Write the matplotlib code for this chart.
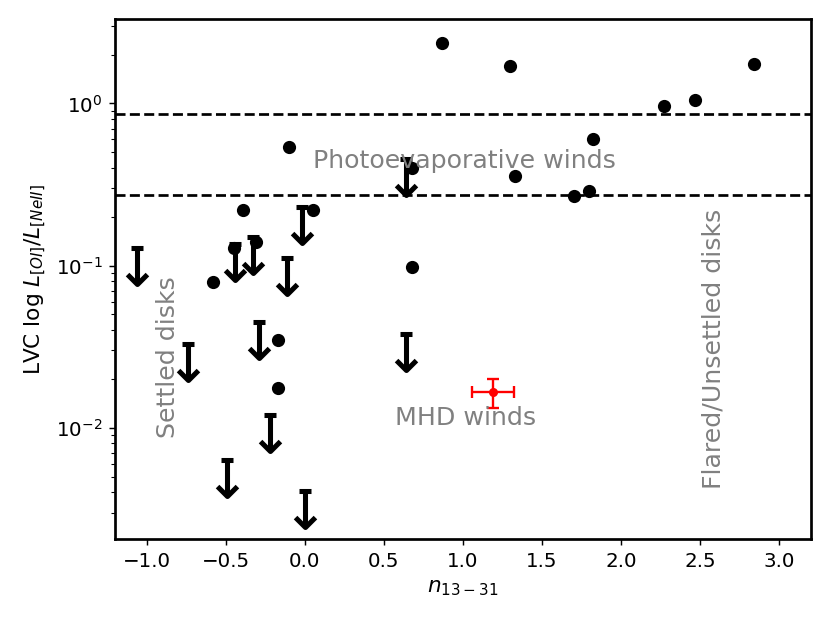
import numpy as np
import matplotlib
matplotlib.use("Agg")
from matplotlib import pyplot as plt
from matplotlib.path import Path

# detections
det_x = [-0.10, 0.68, -0.39, 0.05, -0.45, -0.31, -0.58, 0.68, -0.17, -0.17,
         0.87, 1.30, 2.84, 2.47, 2.27, 1.82, 1.33, 1.70, 1.80]
det_y = [0.54, 0.40, 0.22, 0.22, 0.128, 0.139, 0.079, 0.098, 0.035, 0.0177,
         2.36, 1.71, 1.75, 1.05, 0.96, 0.605, 0.356, 0.269, 0.288]

# upper limits
lim_x = [0.64, -0.015, -1.06, -0.44, -0.325, -0.11, -0.29, -0.74, 0.64, -0.22, -0.49, 0.00]
lim_y = [0.453, 0.23, 0.129, 0.135, 0.15, 0.112, 0.045, 0.0327, 0.038, 0.012, 0.0063, 0.0041]

# MHD wind model point
mhd_x, mhd_xerr = 1.19, 0.13
mhd_y, mhd_yerr = 0.0167, 0.0034

# photoevaporative band
photo_lo, photo_hi = 0.272, 0.855

fig = plt.figure(figsize=(830/130, 623/130), dpi=130)
ax = fig.add_axes([0.1386, 0.1348, 0.977 - 0.1386, 0.969 - 0.1348])

ax.plot(det_x, det_y, 'ko', ms=6.3)

# upper limit arrows: bar on top, stem, open V head
lim_y = np.array(lim_y)
lim_tip = lim_y - 0.4 * lim_y
vhead = Path([(-1, 1), (0, 0), (1, 1)], [Path.MOVETO, Path.LINETO, Path.LINETO])
ax.vlines(lim_x, lim_tip, lim_y, color='k', lw=2.8)
ax.plot(lim_x, lim_y, 'k_', ms=6.5, mew=2.8)
ax.plot(lim_x, lim_tip, ls='none', marker=vhead, ms=11, mew=2.8,
        color='k', mfc='none')

ax.errorbar(mhd_x, mhd_y, xerr=mhd_xerr, yerr=mhd_yerr, fmt='o', color='red',
            ms=4, capsize=3.5, elinewidth=1.3, capthick=1.3)

ax.axhline(photo_hi, color='k', ls='--', lw=1.5)
ax.axhline(photo_lo, color='k', ls='--', lw=1.5)

ax.text(0.05, 0.4, 'Photoevaporative winds', fontsize=14, color='gray')
ax.text(0.57, 0.0104, 'MHD winds', fontsize=14, color='gray')
ax.text(-0.94, 0.0093, 'Settled disks', fontsize=14, color='gray', rotation=90)
ax.text(2.51, 0.0045, 'Flared/Unsettled disks', fontsize=14, color='gray', rotation=90)

ax.set_yscale('log')
ax.set_xlim(-1.2, 3.2)
ax.set_ylim(2.06e-3, 3.3)
ax.set_xlabel(r'$n_{13-31}$', fontsize=12)
ax.set_ylabel(r'LVC log $L_{[OI]}/L_{[NeII]}$', fontsize=12)
ax.tick_params(labelsize=11)
for s in ax.spines.values():
    s.set_linewidth(1.5)

fig.savefig('out.png', dpi=130)
